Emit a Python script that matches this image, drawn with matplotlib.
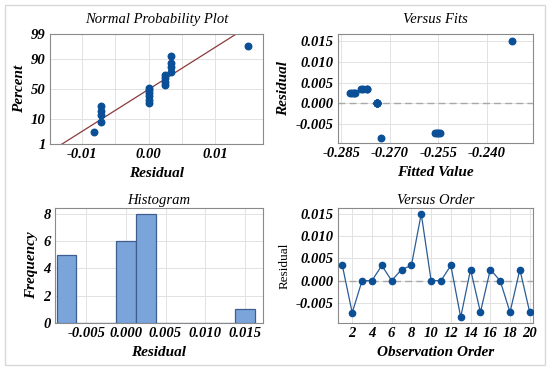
import matplotlib
matplotlib.use("Agg")
import matplotlib.pyplot as plt
from matplotlib.patches import Rectangle
from statistics import NormalDist
import numpy as np

# residuals in observation order
order = list(range(1, 21))
resid = [0.0034, -0.0072, 0.0000, 0.0000, 0.0034, 0.0000, 0.0025, 0.0034, 0.0150, 0.0000,
         0.0000, 0.0034, -0.0082, 0.0025, -0.0071, 0.0025, 0.0000, -0.0071, 0.0025, -0.0071]
fits = [-0.2788, -0.2560, -0.2741, -0.2741, -0.2784, -0.2741, -0.2824, -0.2772, -0.2322, -0.2741,
        -0.2741, -0.2770, -0.2728, -0.2817, -0.2555, -0.2811, -0.2741, -0.2550, -0.2806, -0.2545]

hist_edges = [-0.00875 + 0.0025 * i for i in range(11)]
pct_ticks = [1, 10, 50, 90, 99]

pt_col = "#0b4f96"
lab_font = dict(family="Liberation Serif", style="italic", weight="bold", size=11)
tit_font = dict(family="Liberation Serif", style="italic", size=10.5)

W, H = 550, 370
fig = plt.figure(figsize=(5.5, 3.7), dpi=100)
fig.patches.append(Rectangle((5 / W, 5 / H), 540 / W, 360 / H, transform=fig.transFigure,
                             fill=False, edgecolor="#d8d8d8", lw=1))


def box(l, t, r, b):
    return fig.add_axes([l / W, 1 - b / H, (r - l) / W, (b - t) / H])


def style(ax):
    for s in ax.spines.values():
        s.set_color("#8a8a8a")
    ax.grid(True, color="#e2e2e2", lw=0.7)
    ax.set_axisbelow(True)
    ax.tick_params(length=0, pad=3)
    for lb in ax.get_xticklabels() + ax.get_yticklabels():
        lb.set_fontfamily("Liberation Serif")
        lb.set_fontstyle("italic")
        lb.set_fontweight("bold")
        lb.set_fontsize(10.5)


nd = NormalDist()

# Normal probability plot
ax1 = box(50, 34, 263, 144)
srt = np.sort(resid)
n = len(srt)
z = [nd.inv_cdf((i + 1 - 0.3) / (n + 0.4)) for i in range(n)]
ax1.scatter(srt, z, s=22, color=pt_col, zorder=3)
mu, sd = np.mean(resid), np.std(resid, ddof=1)
zz = np.array([-3, 3])
ax1.plot(mu + sd * zz * 1.03, zz, color="#8b3a3a", lw=0.9, zorder=2)
zl = nd.inv_cdf(0.99)
ax1.set_ylim(-zl, zl)
ax1.set_xlim(-0.0148, 0.0172)
ax1.set_yticks([nd.inv_cdf(p / 100) for p in pct_ticks])
ax1.set_yticklabels([str(p) for p in pct_ticks])
ax1.set_xticks([-0.01, -0.005, 0, 0.005, 0.01])
ax1.set_xticklabels(["-0.01", "", "0.00", "", "0.01"])
style(ax1)
ax1.set_title("Normal Probability Plot", pad=8, **tit_font)
ax1.set_xlabel("Residual", labelpad=4, **lab_font)
ax1.set_ylabel("Percent", labelpad=4, **lab_font)

# Versus fits
ax2 = box(338, 34, 533, 143)
ax2.scatter(fits, resid, s=22, color=pt_col, zorder=3)
ax2.axhline(0, color="#a8a8a8", ls=(0, (5, 3)), lw=1, zorder=2)
ax2.set_xlim(-0.286, -0.2258)
ax2.set_ylim(-0.0095, 0.0167)
ax2.set_xticks([-0.285, -0.270, -0.255, -0.240])
ax2.set_yticks([-0.005, 0, 0.005, 0.010, 0.015])
ax2.set_xticklabels(["-0.285", "-0.270", "-0.255", "-0.240"])
ax2.set_yticklabels(["-0.005", "0.000", "0.005", "0.010", "0.015"])
style(ax2)
ax2.set_title("Versus Fits", pad=8, **tit_font)
ax2.set_xlabel("Fitted Value", labelpad=4, **lab_font)
ax2.set_ylabel("Residual", labelpad=4, **lab_font)

# Histogram
ax3 = box(55, 208, 263, 323)
ax3.hist(resid, bins=hist_edges, color="#7ba5da", edgecolor="#3d5f8f", lw=0.9, zorder=3)
ax3.set_xlim(-0.00895, 0.0173)
ax3.set_ylim(0, 8.44)
ax3.set_xticks([-0.005, 0, 0.005, 0.010, 0.015])
ax3.set_xticklabels(["-0.005", "0.000", "0.005", "0.010", "0.015"])
ax3.set_yticks([0, 2, 4, 6, 8])
style(ax3)
ax3.set_title("Histogram", pad=3, **tit_font)
ax3.set_xlabel("Residual", labelpad=4, **lab_font)
ax3.set_ylabel("Frequency", labelpad=4, **lab_font)

# Versus order
ax4 = box(338, 208, 533, 323)
ax4.plot(order, resid, color="#2a5d96", lw=0.9, marker="o", ms=4.5,
         mfc=pt_col, mec=pt_col, zorder=3)
ax4.axhline(0, color="#a8a8a8", ls=(0, (5, 3)), lw=1, zorder=2)
ax4.set_xlim(0.56, 20.33)
ax4.set_ylim(-0.0095, 0.0163)
ax4.set_xticks(range(2, 21, 2))
ax4.set_yticks([-0.005, 0, 0.005, 0.010, 0.015])
ax4.set_yticklabels(["-0.005", "0.000", "0.005", "0.010", "0.015"])
style(ax4)
ax4.set_title("Versus Order", pad=3, **tit_font)
ax4.set_xlabel("Observation Order", labelpad=4, **lab_font)
ax4.set_ylabel("Residual", labelpad=4, family="Liberation Serif", size=9.5)

fig.savefig("out.png", dpi=100, facecolor="white")
